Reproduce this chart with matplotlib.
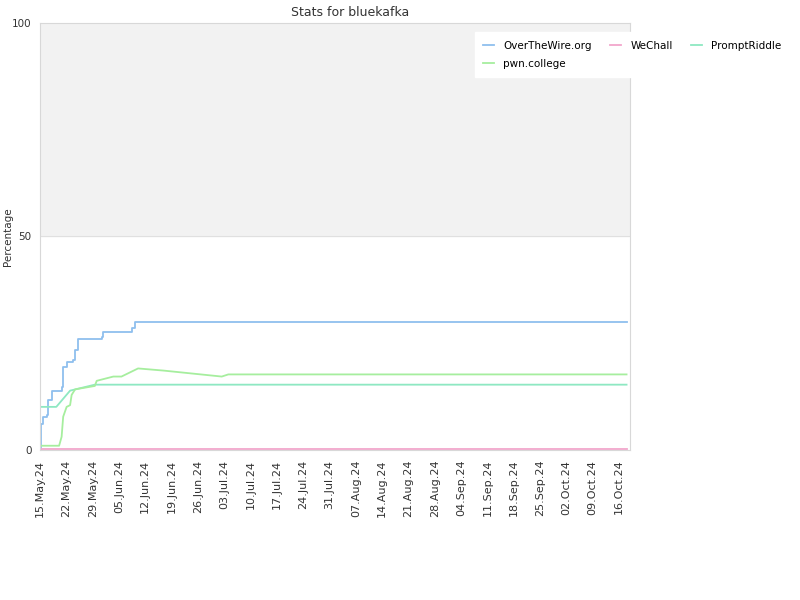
import pandas as pd
import matplotlib.pyplot as plt
import matplotlib.dates as mdates

otw_dates = ['2024-05-15 00:00', '2024-05-15 08:00', '2024-05-15 18:00', '2024-05-16 18:00',
             '2024-05-17 04:00', '2024-05-18 02:00', '2024-05-20 18:00', '2024-05-21 04:00',
             '2024-05-22 02:00', '2024-05-23 20:00', '2024-05-24 08:00', '2024-05-25 04:00',
             '2024-05-31 10:00', '2024-05-31 20:00', '2024-06-08 10:00', '2024-06-09 08:00',
             '2024-10-18 00:00']
otw_vals = [0, 6.2, 7.8, 8.2, 11.7, 13.7, 14.8, 19.5, 20.7, 21.0, 23.4, 26.1, 26.5, 27.7, 28.5, 30.0, 30.0]

wechall_dates = ['2024-05-15 00:00', '2024-10-18 00:00']
wechall_vals = [0.3, 0.3]

prompt_dates = ['2024-05-15 00:00', '2024-05-19 08:00', '2024-05-23 00:00', '2024-05-29 14:00',
                '2024-10-18 00:00']
prompt_vals = [10.1, 10.1, 13.9, 15.3, 15.3]

pwn_dates = ['2024-05-15 00:00', '2024-05-20 02:00', '2024-05-20 18:00', '2024-05-21 04:00',
             '2024-05-22 02:00', '2024-05-23 00:00', '2024-05-23 10:00', '2024-05-24 08:00',
             '2024-05-29 14:00', '2024-05-30 02:00', '2024-06-03 12:00', '2024-06-05 16:00',
             '2024-06-10 02:00', '2024-06-16 20:00', '2024-06-25 16:00', '2024-07-02 08:00',
             '2024-07-04 02:00', '2024-10-18 00:00']
pwn_vals = [1.0, 1.0, 3.1, 7.8, 10.1, 10.5, 12.9, 14.2, 15.0, 16.2, 17.2, 17.2, 19.1, 18.6,
            17.8, 17.2, 17.7, 17.7]

ticks = pd.date_range('2024-05-15', '2024-10-16', freq='7D')

fig = plt.figure(figsize=(8, 6), dpi=100)
ax = fig.add_axes([0.05, 0.25, 0.7375, 0.7117])
txt = '#333333'

ax.axhspan(50, 100, color='#f2f2f2', zorder=0)
ax.axhline(50, color='#e0e0e0', lw=0.8, zorder=1)

l1, = ax.plot(pd.to_datetime(otw_dates), otw_vals, color='#8fbfee', lw=1.3,
              drawstyle='steps-post', label='OverTheWire.org')
l2, = ax.plot(pd.to_datetime(wechall_dates), wechall_vals, color='#f2a6cc', lw=1.3, label='WeChall')
l3, = ax.plot(pd.to_datetime(prompt_dates), prompt_vals, color='#8ee8c2', lw=1.3, label='PromptRiddle')
l4, = ax.plot(pd.to_datetime(pwn_dates), pwn_vals, color='#a6ee9e', lw=1.3, label='pwn.college')

ax.set_xlim(pd.Timestamp('2024-05-15'), pd.Timestamp('2024-10-18 22:00'))
ax.set_ylim(0, 100)
ax.set_yticks([0, 50, 100])
ax.set_xticks(ticks)
ax.xaxis.set_major_formatter(mdates.DateFormatter('%d.%b.%y'))
ax.tick_params(axis='x', rotation=90, labelsize=8, length=0, colors=txt, pad=7)
ax.tick_params(axis='y', labelsize=7.5, length=0, colors=txt, pad=6)
for s in ax.spines.values():
    s.set_color('#d8d8d8')
    s.set_linewidth(0.8)

ax.set_ylabel('Percentage', fontsize=7.5, color=txt)
ax.yaxis.set_label_coords(-0.045, 0.5)
fig.text(0.4375, 0.98, 'Stats for bluekafka', ha='center', va='center', fontsize=9, color=txt)

leg = fig.legend([l1, l4, l2, l3], ['OverTheWire.org', 'pwn.college', 'WeChall', 'PromptRiddle'],
                 loc='upper left', bbox_to_anchor=(0.587, 0.955), ncol=3, fontsize=7.5,
                 frameon=True, handlelength=1.0, columnspacing=1.75, handletextpad=0.95,
                 borderpad=0.8, labelspacing=0.8)
leg.get_frame().set_edgecolor('white')
leg.get_frame().set_facecolor('white')
leg.get_frame().set_alpha(1)
leg.get_frame().set_boxstyle('square', pad=0)

fig.savefig('out.png', dpi=100)
